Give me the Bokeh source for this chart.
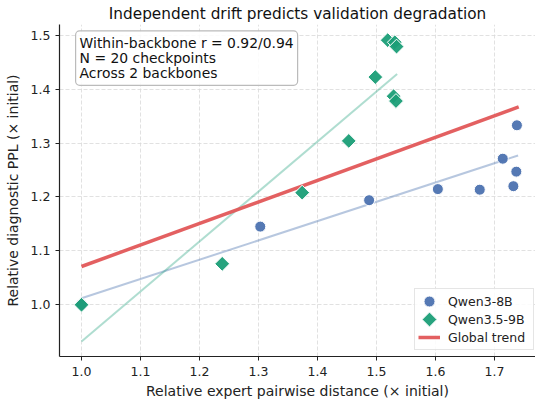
import numpy as np
from bokeh.plotting import figure
from bokeh.models import Range1d, Label, Legend, LegendItem, FixedTicker, CustomJS
from bokeh.models.glyphs import Scatter
from bokeh.embed import file_html
from bokeh.resources import INLINE

# ---- data ----
q3_x = [1.0, 1.303, 1.4875, 1.604, 1.675, 1.714, 1.732, 1.737, 1.738]
q3_y = [1.0, 1.145, 1.194, 1.2146, 1.2135, 1.271, 1.220, 1.247, 1.333]

q35_x = [1.0, 1.2385, 1.374, 1.453, 1.498, 1.519, 1.531, 1.534, 1.529, 1.533]
q35_y = [1.0, 1.076, 1.208, 1.304, 1.4225, 1.491, 1.487, 1.479, 1.387, 1.378]

q3_fit_x = [1.0, 1.740]
q3_fit_y = [1.012, 1.277]
q35_fit_x = [1.0, 1.535]
q35_fit_y = [0.932, 1.428]
global_x = [1.0, 1.741]
global_y = [1.071, 1.367]

x_ticks = [1.0, 1.1, 1.2, 1.3, 1.4, 1.5, 1.6, 1.7]
x_tick_labels = ["1.0", "1.1", "1.2", "1.3", "1.4", "1.5", "1.6", "1.7"]
y_ticks = [1.0, 1.1, 1.2, 1.3, 1.4, 1.5]
y_tick_labels = ["1.0", "1.1", "1.2", "1.3", "1.4", "1.5"]

title_text = "Independent drift predicts validation degradation"
x_label = "Relative expert pairwise distance (\u00d7 initial)"
y_label = "Relative diagnostic PPL (\u00d7 initial)"
note_text = "Within-backbone r = 0.92/0.94\nN = 20 checkpoints\nAcross 2 backbones"

FONT = "DejaVu Sans"
BLUE = "#4c72b0"
GREEN = "#1b9e77"
RED = "#e15759"
INK = "#222222"

p = figure(width=535, height=405, output_backend="svg", toolbar_location=None,
           x_range=Range1d(0.9627, 1.7695), y_range=Range1d(0.904, 1.520),
           min_border_left=59, min_border_right=0, min_border_top=22,
           min_border_bottom=49)
p.outline_line_color = None
p.background_fill_color = "white"

p.title.text = title_text
p.title.align = "center"
p.title.offset = -6
p.title.text_font = FONT
p.title.text_font_size = "15.3px"
p.title.text_font_style = "normal"
p.title.text_color = "#111111"
p.title.standoff = 4

# axes
for ax, ticks, labels in ((p.xaxis[0], x_ticks, x_tick_labels),
                          (p.yaxis[0], y_ticks, y_tick_labels)):
    ax.ticker = FixedTicker(ticks=ticks)
    ax.major_label_overrides = {t: l for t, l in zip(ticks, labels)}
    ax.axis_line_color = INK
    ax.axis_line_width = 1.2
    ax.major_tick_line_color = INK
    ax.major_tick_line_width = 1
    ax.major_tick_out = 4
    ax.major_tick_in = 0
    ax.minor_tick_line_color = None
    ax.major_label_text_font = FONT
    ax.major_label_text_font_size = "12.5px"
    ax.major_label_text_color = INK
    ax.axis_label_text_font = FONT
    ax.axis_label_text_font_size = "14px"
    ax.axis_label_text_font_style = "normal"
    ax.axis_label_text_color = INK

p.xaxis.axis_label = x_label
p.yaxis.axis_label = y_label
p.xaxis.major_label_standoff = 6
p.xaxis.axis_label_standoff = 4
p.yaxis.major_label_standoff = 5
p.yaxis.axis_label_standoff = 7

for g in (p.xgrid[0], p.ygrid[0]):
    g.grid_line_color = "#d9d9d9"
    g.grid_line_dash = "4 2"
    g.grid_line_width = 0.8

# trend lines
p.line(q3_fit_x, q3_fit_y, line_color=BLUE, line_alpha=0.4, line_width=2)
p.line(q35_fit_x, q35_fit_y, line_color=GREEN, line_alpha=0.35, line_width=2)
r_global = p.line(global_x, global_y, line_color=RED, line_alpha=0.95, line_width=3.5)

# points
LEG_H = 18  # legend glyph height; legend markers are drawn at 0.4 * LEG_H
HAS_DEFS = "defs" in Scatter.properties()
if HAS_DEFS:
    S = 0.4 * LEG_H
    dot_def = CustomJS(code="""
export default (args, obj, {ctx, i, r, visuals}) => {
  ctx.arc(0, 0, r * 1.53, 0, 2 * Math.PI, false)
  visuals.fill.apply(ctx, i)
  visuals.line.apply(ctx, i)
}
""")
    dia_def = CustomJS(code="""
export default (args, obj, {ctx, i, r, visuals}) => {
  const R = r * 2.06
  ctx.moveTo(0, -R)
  ctx.lineTo(R, 0)
  ctx.lineTo(0, R)
  ctx.lineTo(-R, 0)
  ctx.closePath()
  visuals.fill.apply(ctx, i)
  visuals.line.apply(ctx, i)
}
""")
    r_q3 = p.scatter(q3_x, q3_y, marker="@dot", defs={"@dot": dot_def}, size=S,
                     fill_color=BLUE, fill_alpha=0.95, line_color="white", line_width=1)
    r_q35 = p.scatter(q35_x, q35_y, marker="@dia", defs={"@dia": dia_def}, size=S,
                      fill_color=GREEN, fill_alpha=0.95, line_color="white", line_width=1)
else:
    r_q3 = p.scatter(q3_x, q3_y, marker="circle", size=11, fill_color=BLUE,
                     fill_alpha=0.95, line_color="white", line_width=1)
    r_q35 = p.scatter(q35_x, q35_y, marker="square", angle=np.pi / 4, size=10.5,
                      fill_color=GREEN, fill_alpha=0.95, line_color="white", line_width=1)

legend = Legend(items=[LegendItem(label="Qwen3-8B", renderers=[r_q3]),
                       LegendItem(label="Qwen3.5-9B", renderers=[r_q35]),
                       LegendItem(label="Global trend", renderers=[r_global])],
                location=(355, 6))
legend.label_text_font = FONT
legend.label_text_font_size = "12.5px"
legend.label_text_color = INK
legend.glyph_width = 22
legend.glyph_height = LEG_H
legend.label_height = LEG_H
legend.label_standoff = 8
legend.label_width = 82
legend.spacing = 0
legend.padding = 3
legend.border_line_color = "#cccccc"
legend.border_line_width = 1
legend.background_fill_alpha = 0.85
p.add_layout(legend)

note = Label(x=0.9900, y=1.5080, text=note_text, text_align="left",
             text_baseline="top", text_font=FONT, text_font_size="13.9px",
             text_line_height=0.95,
             text_color="#111111", background_fill_color="white",
             background_fill_alpha=0.85, border_line_color="#bbbbbb",
             border_line_width=1.2, padding=4, border_radius=4)
p.add_layout(note)

open("out.html", "w").write(file_html(p, INLINE))
